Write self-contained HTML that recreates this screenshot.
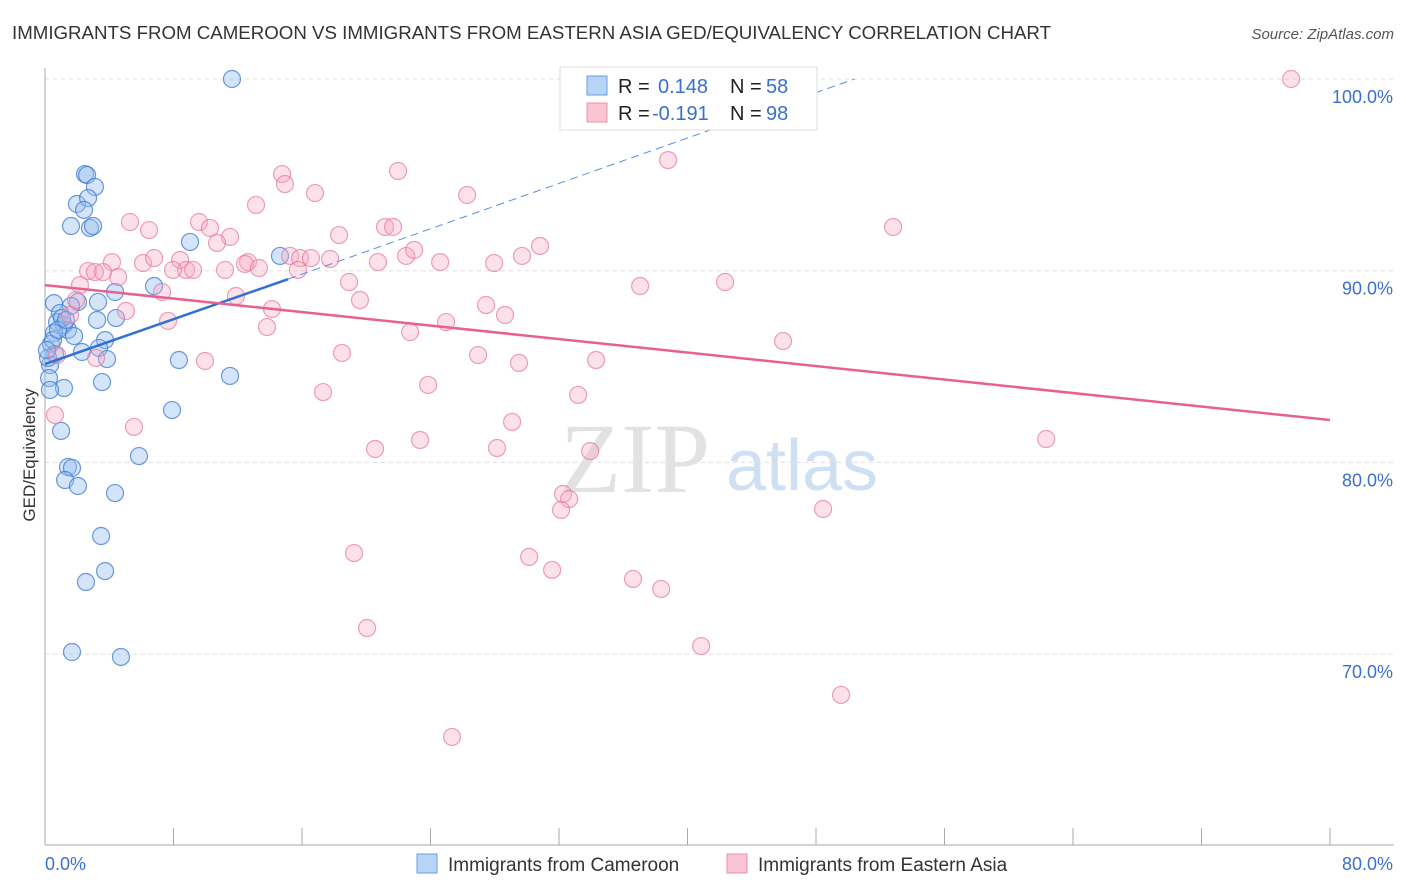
<!DOCTYPE html>
<html><head><meta charset="utf-8"><style>
body{margin:0;background:#fff;font-family:"Liberation Sans",sans-serif}
#wrap{position:relative;width:1406px;height:892px;overflow:hidden}
</style></head><body>
<div id="wrap">
<svg id="chart" width="1406" height="892">
<text x="12" y="39" font-size="18.7" fill="#333">IMMIGRANTS FROM CAMEROON VS IMMIGRANTS FROM EASTERN ASIA GED/EQUIVALENCY CORRELATION CHART</text>
<text x="1394" y="39" font-size="15" fill="#555" text-anchor="end" font-style="italic">Source: ZipAtlas.com</text>
<text x="35" y="455" font-size="17" fill="#333" text-anchor="middle" transform="rotate(-90 35 455)">GED/Equivalency</text>
<g><text x="635" y="492" font-size="100" font-family="Liberation Serif" fill="#e2e2e2" text-anchor="middle">ZIP</text><text x="802" y="490" font-size="72" fill="#cfe0f3" text-anchor="middle">atlas</text></g>
<g id="grid"></g><g id="axes"></g><g id="pts"></g><g id="lines"></g>
<g>
<rect x="560" y="67" width="257" height="63" fill="#fff" stroke="#ddd"/>
<rect x="587" y="76" width="20" height="19" fill="#b7d3f5" stroke="#6a9de0"/>
<rect x="587" y="103" width="20" height="19" fill="#f9c5d3" stroke="#ec8fac"/>
<text x="618" y="93" font-size="20" fill="#222">R = </text><text x="658" y="93" font-size="20" fill="#3a6fd0">0.148</text>
<text x="730" y="93" font-size="20" fill="#222">N = </text><text x="766" y="93" font-size="20" fill="#3a6fd0">58</text>
<text x="618" y="120" font-size="20" fill="#222">R = </text><text x="652" y="120" font-size="20" fill="#3a6fd0">-0.191</text>
<text x="730" y="120" font-size="20" fill="#222">N = </text><text x="766" y="120" font-size="20" fill="#3a6fd0">98</text>
</g>
<g>
<rect x="417" y="854" width="20" height="19" fill="#b7d3f5" stroke="#6a9de0"/>
<text x="448" y="871" font-size="19" fill="#333">Immigrants from Cameroon</text>
<rect x="727" y="854" width="20" height="19" fill="#f9c5d3" stroke="#ec8fac"/>
<text x="758" y="871" font-size="19" fill="#333">Immigrants from Eastern Asia</text>
</g>
</svg>
</div>
<script>
const yTicks=[70,80,90,100];
const yTickLabels=["70.0%","80.0%","90.0%","100.0%"];
const xTickVals=[8,16,24,32,40,48,56,64,72,80];
const blueX=[11.64,2.49,2.62,3.11,1.99,2.68,2.43,1.62,2.80,2.99,9.03,14.63,6.79,4.36,0.56,2.05,3.30,1.62,0.93,4.42,3.24,0.75,1.18,1.43,0.56,1.81,3.74,3.36,0.37,0.62,2.30,3.86,8.34,0.31,0.25,3.55,1.18,11.52,7.91,1.00,5.85,1.43,1.68,1.25,2.05,4.36,3.49,3.74,2.55,1.68,4.73,0.50,1.06,0.19,0.31,0.12,0.81,1.31];
const blueY=[100,95.04,94.99,94.37,93.48,93.79,93.17,92.33,92.23,92.33,91.50,90.77,89.20,88.89,88.31,88.37,88.37,88.16,87.79,87.53,87.43,87.32,87.17,86.91,86.75,86.59,86.38,85.97,86.18,85.65,85.76,85.39,85.34,85.08,84.40,84.19,83.88,84.51,82.73,81.64,80.33,79.76,79.71,79.08,78.77,78.40,76.16,74.33,73.76,70.11,69.85,86.38,87.53,85.45,83.78,85.86,86.91,87.43];
const pinkX=[77.58,37.80,43.15,21.98,14.76,14.94,16.81,38.79,26.28,13.14,5.29,9.59,10.27,6.48,11.52,10.71,21.17,21.67,30.82,52.80,18.31,8.41,6.10,4.17,6.79,12.64,12.45,13.32,15.26,15.88,16.56,17.75,20.73,22.48,22.98,24.60,27.96,29.70,11.21,8.78,7.97,9.22,4.55,2.68,3.11,3.61,2.18,15.75,18.93,11.89,7.29,37.05,42.34,14.13,19.61,5.04,27.46,28.64,24.97,1.93,1.56,7.66,13.82,22.73,45.95,18.49,26.96,29.51,34.31,9.96,3.18,17.31,23.85,33.19,29.08,5.54,23.35,20.55,28.14,33.94,62.33,32.25,32.63,32.13,48.44,19.24,30.14,31.57,36.61,38.36,20.05,40.85,49.56,25.34,0.62,0.75];
const pinkY=[100,100,100,95.20,95.04,94.52,94.05,95.77,93.95,93.43,92.54,92.54,92.23,92.12,91.76,91.45,92.28,92.28,91.29,92.28,91.86,90.56,90.40,90.45,90.66,90.45,90.35,90.14,90.77,90.66,90.66,90.61,90.45,90.77,91.08,90.45,90.40,90.77,90.04,90.04,90.04,90.04,89.67,89.98,89.93,89.93,89.25,90.04,89.41,88.68,88.89,89.20,89.41,88.00,88.47,87.90,88.21,87.69,87.32,88.47,87.69,87.38,87.06,86.80,86.33,85.71,85.60,85.19,85.34,85.29,85.45,83.67,84.04,83.52,82.11,81.85,81.17,80.70,80.75,80.59,81.22,78.35,78.09,77.52,77.57,75.27,75.07,74.39,73.92,73.40,71.36,70.42,67.87,65.68,82.47,85.60];
const blueTrend=[[0,85.13],[15.13,89.56],[50.4,100]];
const pinkTrend=[[0,89.25],[80,82.21]];
const NS="http://www.w3.org/2000/svg";
const sx=v=>45+v*16.0625, sy=v=>79+(100-v)*19.17;
function mk(t,a,p){const e=document.createElementNS(NS,t);for(const k in a)e.setAttribute(k,a[k]);p.appendChild(e);return e;}
const grid=document.getElementById('grid'),axes=document.getElementById('axes'),pts=document.getElementById('pts'),lines=document.getElementById('lines');
yTicks.forEach((v,i)=>{
 const l=mk('line',{x1:45,x2:1394,y1:sy(v),y2:sy(v),stroke:'#ddd','stroke-dasharray':'4,4'},grid);
 
 
 const t=mk('text',{x:1393,y:sy(v)+24,'font-size':18,fill:'#3a6fd0','text-anchor':'end'},axes);
 t.textContent=yTickLabels[i];
 
 
});
mk('line',{x1:45,x2:45,y1:68,y2:845,stroke:'#aaa'},axes);
mk('line',{x1:45,x2:1394,y1:845,y2:845,stroke:'#aaa'},axes);
xTickVals.forEach(v=>{const l=mk('line',{x1:sx(v),x2:sx(v),y1:828,y2:845,stroke:'#aaa'},axes);
 
 });
const t0=mk('text',{x:45,y:870,'font-size':18,fill:'#3a6fd0'},axes);t0.textContent='0.0%';


const t1=mk('text',{x:1393,y:870,'font-size':18,fill:'#3a6fd0','text-anchor':'end'},axes);t1.textContent='80.0%';


blueX.forEach((x,i)=>{const c=mk('circle',{cx:sx(x),cy:sy(blueY[i]),r:8.5,fill:'rgba(150,190,240,0.4)',stroke:'rgba(60,120,210,0.75)','stroke-width':1.2},pts);
 
 });
pinkX.forEach((x,i)=>{const c=mk('circle',{cx:sx(x),cy:sy(pinkY[i]),r:8.5,fill:'rgba(245,170,195,0.35)',stroke:'rgba(230,120,155,0.7)','stroke-width':1.2},pts);
 
 });
const b1=mk('line',{x1:sx(blueTrend[0][0]),y1:sy(blueTrend[0][1]),x2:sx(blueTrend[1][0]),y2:sy(blueTrend[1][1]),stroke:'#2f6fd6','stroke-width':2.5},lines);


const b2=mk('line',{x1:sx(blueTrend[1][0]),y1:sy(blueTrend[1][1]),x2:sx(blueTrend[2][0]),y2:sy(blueTrend[2][1]),stroke:'#5b8fdc','stroke-width':1,'stroke-dasharray':'8,5'},lines);


const p1=mk('line',{x1:sx(pinkTrend[0][0]),y1:sy(pinkTrend[0][1]),x2:sx(pinkTrend[1][0]),y2:sy(pinkTrend[1][1]),stroke:'#e8608e','stroke-width':2.5},lines);


</script>
</body></html>
